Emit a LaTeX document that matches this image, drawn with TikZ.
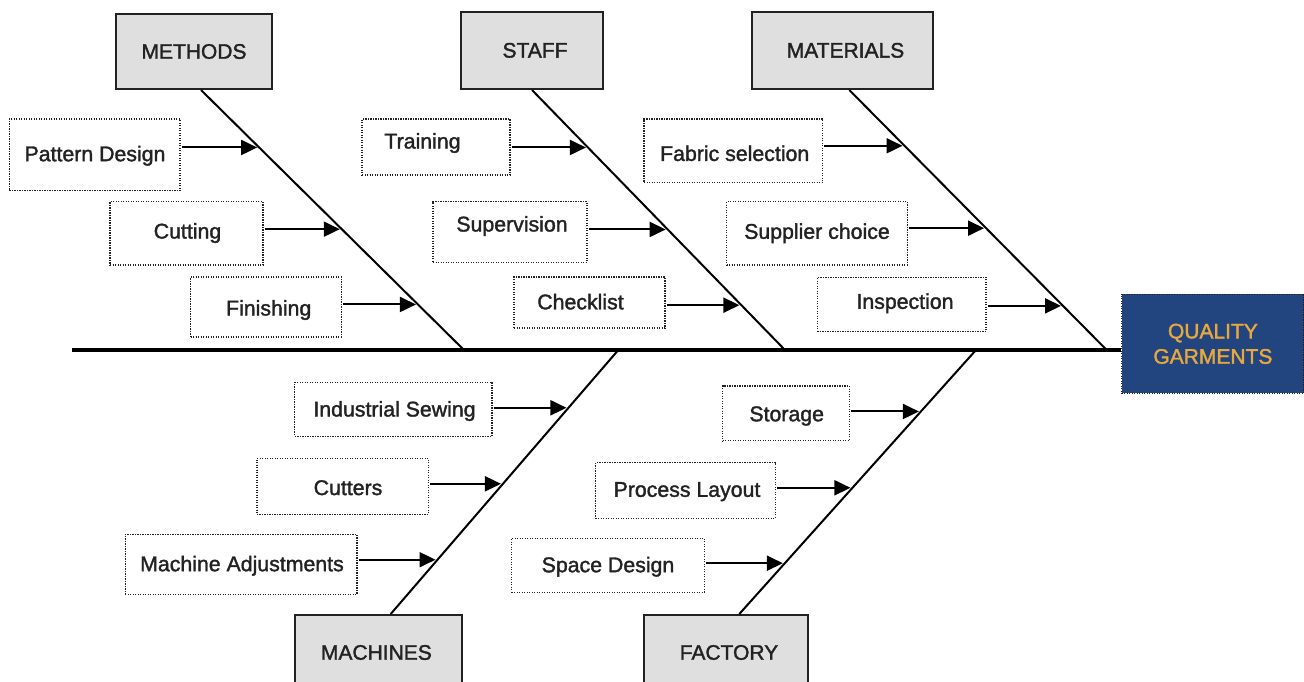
\documentclass[tikz,border=0pt]{standalone}
\usepackage{fontspec}
\setmainfont{Liberation Sans}
\newfontfamily\mfont{Liberation Sans}[FakeBold=1.6]
\usetikzlibrary{calc,arrows.meta}
\definecolor{boxgray}{HTML}{DFDFDF}
\definecolor{navy}{HTML}{22457F}
\definecolor{gold}{HTML}{E8A83E}
\definecolor{ink}{HTML}{222222}
\newcommand\fbcause[8]{%
  \node[causebox, minimum width={(#4-#2)*1pt}, minimum height={(#5-#3)*1pt}] (#1) at ({(#2+#4)/2},{(#3+#5)/2}) {};
  \node[ctext] (#1t) at (#6,#7) {#8};}
\newcommand\fbarrow[6]{%
  \coordinate (#1a) at ($(#3)!{(#2-#5)/(#6-#5)}!(#4)$);
  \draw[arr] (#1.east |- #1a) -- ([xshift=-2pt]#1a);}
\begin{document}
\begin{tikzpicture}[x=1pt,y=-1pt,
  catbox/.style={draw=ink, line width=2pt, fill=boxgray, inner sep=0pt, text=ink, font=\mfont\fontsize{21}{25}\selectfont},
  causebox/.style={draw=ink, line width=1.2pt, dash pattern=on 1.2pt off 1.3pt, inner sep=0pt},
  ctext/.style={inner sep=0pt, text=ink, font=\mfont\fontsize{21.3}{25}\selectfont},
  bone/.style={draw=black, line width=2pt},
  spine/.style={draw=black, line width=3.5pt},
  arr/.style={draw=black, line width=2pt, shorten <=1pt, -{Triangle[length=16pt,width=15pt]}}]
\useasboundingbox (0,0) rectangle (1304,681);
\clip (0,0) rectangle (1304,681);

% effect
\node[draw=ink, line width=1.2pt, dash pattern=on 1.2pt off 1.3pt, fill=navy, text=gold, align=center,
  minimum width=182.3pt, minimum height=99pt, inner sep=0pt, font=\mfont\fontsize{21}{25.3}\selectfont]
  (qg) at (1212.9,343.8) {QUALITY\\GARMENTS};

% category boxes
\node[catbox, minimum width=156pt, minimum height=75pt] (meth) at (194,51.5) {METHODS};
\node[catbox, minimum width=142pt, minimum height=77.3pt] (staff) at (532,50.35) {\hspace*{6pt}STAFF};
\node[catbox, minimum width=181.6pt, minimum height=77.3pt] (mat) at (842.5,50.35) {\hspace*{6pt}MATERIALS};
\node[catbox, minimum width=167.2pt, minimum height=75pt] (mach) at (378.4,652.5) {MACHINES\hspace*{4pt}};
\node[catbox, minimum width=164pt, minimum height=75pt] (fact) at (726,652.5) {\hspace*{6pt}FACTORY};

% spine
\coordinate (s0) at (72,350);
\draw[spine] (s0) -- (s0 -| qg.west);

% bones
\coordinate (mT) at ([xshift=7pt]meth.south);
\coordinate (mB) at (464,350);
\coordinate (sT) at (staff.south);
\coordinate (sB) at (785,350);
\coordinate (aT) at ([xshift=6.8pt]mat.south);
\coordinate (aB) at (1106.7,350);
\coordinate (cT) at (618.3,350);
\coordinate (cB) at ([xshift=12.3pt]mach.north);
\coordinate (fT) at (976,350);
\coordinate (fB) at ([xshift=13.3pt]fact.north);
\draw[bone] (mT) -- (mB);
\draw[bone] (sT) -- (sB);
\draw[bone] (aT) -- (aB);
\draw[bone] (cT) -- (cB);
\draw[bone] (fT) -- (fB);

% METHODS causes
\fbcause{pd}{9.3}{119}{180}{190.7}{95}{155.7}{Pattern Design}
\fbcause{cu}{110}{201.7}{263}{265}{187.5}{233}{Cutting}
\fbcause{fi}{190.7}{277}{341.3}{337}{268.7}{310}{Finishing}
\fbarrow{pd}{146.7}{mT}{mB}{89}{350}
\fbarrow{cu}{228.7}{mT}{mB}{89}{350}
\fbarrow{fi}{304.3}{mT}{mB}{89}{350}

% STAFF causes
\fbcause{tr}{362}{119}{510}{175}{422.5}{143}{Training}
\fbcause{su}{433}{201.7}{587}{262.3}{512}{226}{Supervision}
\fbcause{ch}{514}{277}{665}{328}{580.5}{301.7}{Checklist}
\fbarrow{tr}{146.7}{sT}{sB}{89}{350}
\fbarrow{su}{229}{sT}{sB}{89}{350}
\fbarrow{ch}{305}{sT}{sB}{89}{350}

% MATERIALS causes
\fbcause{fs}{644}{119}{822.7}{182.7}{734.7}{153.3}{Fabric selection}
\fbcause{sc}{726.7}{201.7}{907.3}{265}{817}{233.3}{Supplier choice}
\fbcause{in}{817.3}{277.3}{986}{331.7}{905}{303.3}{Inspection}
\fbarrow{fs}{145}{aT}{aB}{89}{350}
\fbarrow{sc}{227.7}{aT}{aB}{89}{350}
\fbarrow{in}{305.7}{aT}{aB}{89}{350}

% MACHINES causes
\fbcause{is}{294.8}{382.3}{492}{436.3}{394.5}{411}{Industrial Sewing}
\fbcause{ct}{256.9}{458.3}{428.3}{514.3}{348}{487.7}{Cutters}
\fbcause{ma}{125.2}{534.3}{356.9}{594.3}{242}{565.7}{Machine Adjustments}
\fbarrow{is}{408}{cT}{cB}{350}{615}
\fbarrow{ct}{484.3}{cT}{cB}{350}{615}
\fbarrow{ma}{560.5}{cT}{cB}{350}{615}

% FACTORY causes
\fbcause{st}{722.7}{386}{849.3}{440.7}{786.7}{416}{Storage}
\fbcause{pl}{595.7}{462.7}{775.3}{518.3}{687}{491.7}{Process Layout}
\fbcause{sd}{511.7}{538.3}{704.3}{592.3}{608}{566.7}{Space Design}
\fbarrow{st}{411.7}{fT}{fB}{350}{615}
\fbarrow{pl}{488.3}{fT}{fB}{350}{615}
\fbarrow{sd}{564}{fT}{fB}{350}{615}
\end{tikzpicture}
\end{document}
